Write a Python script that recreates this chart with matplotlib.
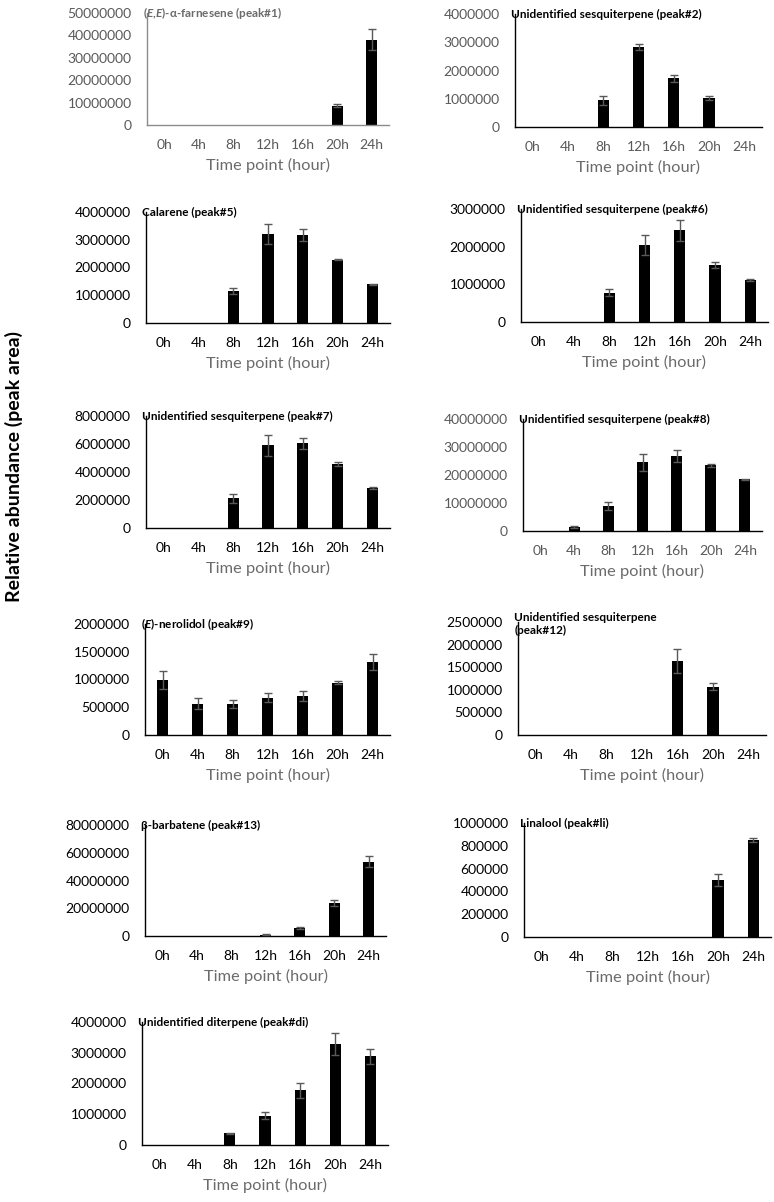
"""Time-course of terpene emission, one bar panel per compound."""

import matplotlib
matplotlib.use("Agg")
import matplotlib.pyplot as plt
import numpy as np

plt.rcParams["font.family"] = ["Lato", "DejaVu Sans"]
plt.rcParams["mathtext.fontset"] = "custom"
plt.rcParams["mathtext.bfit"] = "Lato:italic:bold"
plt.rcParams["mathtext.it"] = "Lato:italic"
plt.rcParams["mathtext.rm"] = "Lato"

# --- data -------------------------------------------------------------------
time_points = ["0h", "4h", "8h", "12h", "16h", "20h", "24h"]

farnesene_mean = [0, 0, 0, 0, 0, 8.6e6, 3.8e7]
farnesene_err = [0, 0, 0, 0, 0, 0.6e6, 4.7e6]

peak2_mean = [0, 0, 0.94e6, 2.83e6, 1.73e6, 1.02e6, 0]
peak2_err = [0, 0, 0.16e6, 0.12e6, 0.12e6, 0.07e6, 0]

calarene_mean = [0, 0, 1.15e6, 3.22e6, 3.17e6, 2.28e6, 1.40e6]
calarene_err = [0, 0, 0.12e6, 0.36e6, 0.20e6, 0.02e6, 0.02e6]

peak6_mean = [0, 0, 0.78e6, 2.05e6, 2.43e6, 1.52e6, 1.12e6]
peak6_err = [0, 0, 0.10e6, 0.27e6, 0.29e6, 0.08e6, 0.02e6]

peak7_mean = [0, 0, 2.12e6, 5.90e6, 6.05e6, 4.55e6, 2.86e6]
peak7_err = [0, 0, 0.33e6, 0.76e6, 0.40e6, 0.15e6, 0.05e6]

peak8_mean = [0, 1.4e6, 8.9e6, 24.5e6, 26.8e6, 23.4e6, 18.4e6]
peak8_err = [0, 0.5e6, 1.4e6, 2.9e6, 2.1e6, 0.7e6, 0.2e6]

nerolidol_mean = [0.99e6, 0.56e6, 0.56e6, 0.67e6, 0.70e6, 0.94e6, 1.32e6]
nerolidol_err = [0.16e6, 0.10e6, 0.07e6, 0.08e6, 0.09e6, 0.03e6, 0.14e6]

peak12_mean = [0, 0, 0, 0, 1.64e6, 1.07e6, 0]
peak12_err = [0, 0, 0, 0, 0.26e6, 0.07e6, 0]

barbatene_mean = [0, 0, 0, 0.8e6, 5.6e6, 24.0e6, 53.5e6]
barbatene_err = [0, 0, 0, 0.3e6, 0.8e6, 2.2e6, 4.0e6]

linalool_mean = [0, 0, 0, 0, 0, 0.50e6, 0.85e6]
linalool_err = [0, 0, 0, 0, 0, 0.05e6, 0.02e6]

diterpene_mean = [0, 0, 0.38e6, 0.95e6, 1.78e6, 3.28e6, 2.88e6]
diterpene_err = [0, 0, 0.02e6, 0.12e6, 0.24e6, 0.36e6, 0.25e6]

# title, mean, err, ymax, ystep
panels = [
    (r"($\mathbfit{E}$,$\mathbfit{E}$)-α-farnesene (peak#1)", farnesene_mean, farnesene_err, 5e7, 1e7),
    ("Unidentified sesquiterpene (peak#2)", peak2_mean, peak2_err, 4e6, 1e6),
    ("Calarene (peak#5)", calarene_mean, calarene_err, 4e6, 1e6),
    ("Unidentified sesquiterpene (peak#6)", peak6_mean, peak6_err, 3e6, 1e6),
    ("Unidentified sesquiterpene (peak#7)", peak7_mean, peak7_err, 8e6, 2e6),
    ("Unidentified sesquiterpene (peak#8)", peak8_mean, peak8_err, 4e7, 1e7),
    (r"($\mathbfit{E}$)-nerolidol (peak#9)", nerolidol_mean, nerolidol_err, 2e6, 5e5),
    ("Unidentified sesquiterpene\n(peak#12)", peak12_mean, peak12_err, 2.5e6, 5e5),
    ("β-barbatene (peak#13)", barbatene_mean, barbatene_err, 8e7, 2e7),
    ("Linalool (peak#li)", linalool_mean, linalool_err, 1e6, 2e5),
    ("Unidentified diterpene (peak#di)", diterpene_mean, diterpene_err, 4e6, 1e6),
]

# --- layout (pixels: left, right, top of y range, zero line) ----------------
W, H = 774, 1202
boxes = [
    (147, 389, 13, 125), (515, 762, 14, 127),
    (146, 390, 212, 323), (521, 768, 209, 322),
    (146, 390, 416, 528), (523, 762, 419, 531),
    (145, 390, 624, 735), (518, 766, 622, 735),
    (145, 386, 825, 936), (524, 771, 823, 937),
    (142, 388, 1022, 1145),
]
gray_ticks = {0, 1, 5}

fig = plt.figure(figsize=(W / 100, H / 100), dpi=100)
x = np.arange(len(time_points))

for i, ((title, mean, err, ymax, ystep), (l, r, t, b)) in enumerate(zip(panels, boxes)):
    ax = fig.add_axes([l / W, 1 - b / H, (r - l) / W, (b - t) / H])
    mean = np.asarray(mean)
    err = np.asarray(err)
    ax.bar(x, mean, width=0.32, color="black", zorder=2)
    has = err > 0
    ax.errorbar(x[has], mean[has], yerr=err[has], fmt="none", ecolor="#595959",
                elinewidth=1.0, capsize=3, capthick=1.0, zorder=3)
    ax.set_xlim(-0.5, len(time_points) - 0.5)
    ax.set_ylim(0, ymax)
    yt = np.arange(0, ymax + ystep / 2, ystep)
    ax.set_yticks(yt)
    ax.set_yticklabels([f"{v:.0f}" for v in yt])
    ax.set_xticks(x)
    ax.set_xticklabels(time_points)

    tick_color = "#595959" if i in gray_ticks else "black"
    ax.tick_params(axis="both", length=0, labelsize=10, labelcolor=tick_color)
    ax.tick_params(axis="y", pad=11)
    ax.tick_params(axis="x", pad=10)
    ax.set_xlabel("Time point (hour)", fontsize=11.8, color="#6b6b6b", labelpad=5)

    for side in ("top", "right"):
        ax.spines[side].set_visible(False)
    spine_color = "#8c8c8c" if i == 0 else "black"
    for side in ("left", "bottom"):
        ax.spines[side].set_color(spine_color)
        ax.spines[side].set_linewidth(1.0)

    title_color = "#6b6b6b" if i == 0 else "black"
    if "\n" in title:
        ax.text(-0.015, 1.0 + 10 / (b - t), title, transform=ax.transAxes,
                ha="left", va="top", fontsize=8.5, fontweight="bold",
                color=title_color, linespacing=1.25)
    else:
        ax.text(-0.015, 1.0, title, transform=ax.transAxes, ha="left",
                va="center", fontsize=8.5, fontweight="bold", color=title_color)

fig.text(14 / W, 1 - 467 / H, "Relative abundance (peak area)", rotation=90,
         ha="center", va="center", fontsize=14, fontweight="bold")

fig.savefig("out.png", dpi=100)
plt.close(fig)
